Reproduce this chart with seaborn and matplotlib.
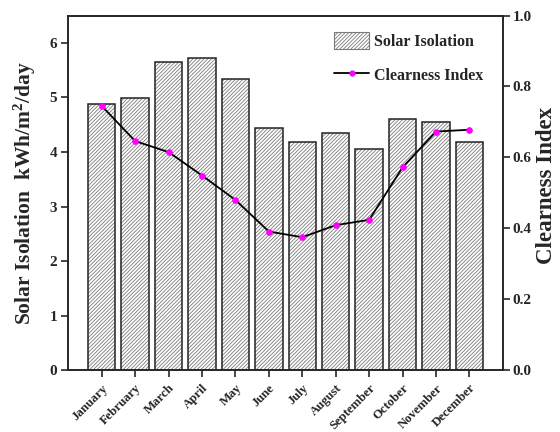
import matplotlib
matplotlib.use("Agg")
import matplotlib.pyplot as plt
from matplotlib.patches import Patch, Rectangle
from matplotlib.lines import Line2D
import numpy as np
import pandas as pd
import seaborn as sns

# Data
months = ["January", "February", "March", "April", "May", "June",
          "July", "August", "September", "October", "November", "December"]
solar_isolation = [4.88, 4.98, 5.65, 5.72, 5.33, 4.44,
                   4.18, 4.34, 4.05, 4.61, 4.54, 4.18]
clearness_index = [0.745, 0.646, 0.615, 0.549, 0.480, 0.391,
                   0.375, 0.409, 0.424, 0.572, 0.673, 0.678]
left_ticks = [0, 1, 2, 3, 4, 5, 6]
right_ticks = [0.0, 0.2, 0.4, 0.6, 0.8, 1.0]

df = pd.DataFrame({"month": months, "solar": solar_isolation,
                   "ci": clearness_index, "pos": np.arange(len(months))})

sns.set_style("ticks")
plt.rcParams["font.family"] = ["Liberation Serif", "DejaVu Serif"]
plt.rcParams["font.weight"] = "bold"
plt.rcParams["mathtext.fontset"] = "custom"
plt.rcParams["mathtext.rm"] = "Liberation Serif:bold"
plt.rcParams["mathtext.bf"] = "Liberation Serif:bold"
plt.rcParams["mathtext.default"] = "bf"
plt.rcParams["hatch.linewidth"] = 0.6

HATCH = "/////////"
HATCH_COLOR = "#7a7a7a"
fig = plt.figure(figsize=(5.6, 4.32), dpi=100)
ax = fig.add_axes([0.122, 0.143, 0.776, 0.821])

# bars: gray hatch first, then black outline on top
sns.barplot(data=df, x="month", y="solar", ax=ax, color="white",
            edgecolor=HATCH_COLOR, linewidth=0, width=0.82,
            hatch=HATCH, zorder=2)
for p in list(ax.patches):
    ax.add_patch(Rectangle(p.get_xy(), p.get_width(), p.get_height(),
                           fill=False, ec="#222222", lw=1.1, zorder=3))

ax.set_xlim(-1, len(months))
ax.set_ylim(0, 6.5)
ax.set_yticks(left_ticks)
ax.set_xticks(df["pos"])
ax.set_xticklabels(months, rotation=45, ha="right", rotation_mode="anchor",
                   fontsize=9.2, fontweight="bold")
ax.tick_params(axis="y", labelsize=11, direction="out", length=5, width=1.2,
               pad=3)
ax.tick_params(axis="x", direction="out", length=5, width=1.2)
ax.set_xlabel("")
ax.set_ylabel("Solar Isolation  kWh/m$^2$/day", fontsize=15.5,
              fontweight="bold", labelpad=8)

ax2 = ax.twinx()
sns.lineplot(data=df, x="pos", y="ci", ax=ax2, color="black", lw=1.3,
             marker="o", markersize=4, markerfacecolor="magenta",
             markeredgecolor="magenta", zorder=4)
ax2.set_ylim(0, 1.0)
ax2.set_yticks(right_ticks)
ax2.set_yticklabels([f"{t:.1f}" for t in right_ticks])
ax2.tick_params(axis="y", labelsize=11, direction="out", length=5, width=1.2,
                pad=2)
ax2.set_ylabel("Clearness Index", fontsize=16.5, fontweight="bold")
ax2.yaxis.set_label_coords(1.077, 0.52)
ax2.set_xlabel("")

for a in (ax, ax2):
    for s in a.spines.values():
        s.set_linewidth(1.2)
        s.set_visible(True)
    for lab in a.get_yticklabels():
        lab.set_fontweight("bold")

handles = [Patch(facecolor="white", edgecolor=HATCH_COLOR, hatch=HATCH,
                 linewidth=0.8),
           Line2D([], [], color="black", lw=1.3, marker="o", markersize=3.5,
                  markerfacecolor="magenta", markeredgecolor="magenta")]
ax2.legend(handles, ["Solar Isolation", "Clearness Index"], loc="upper right",
           bbox_to_anchor=(0.988, 0.995), frameon=False,
           prop={"weight": "bold", "size": 11.5}, handlelength=2.2,
           handleheight=1.3, handletextpad=0.3, labelspacing=1.0)

fig.savefig("out.png", dpi=100)
